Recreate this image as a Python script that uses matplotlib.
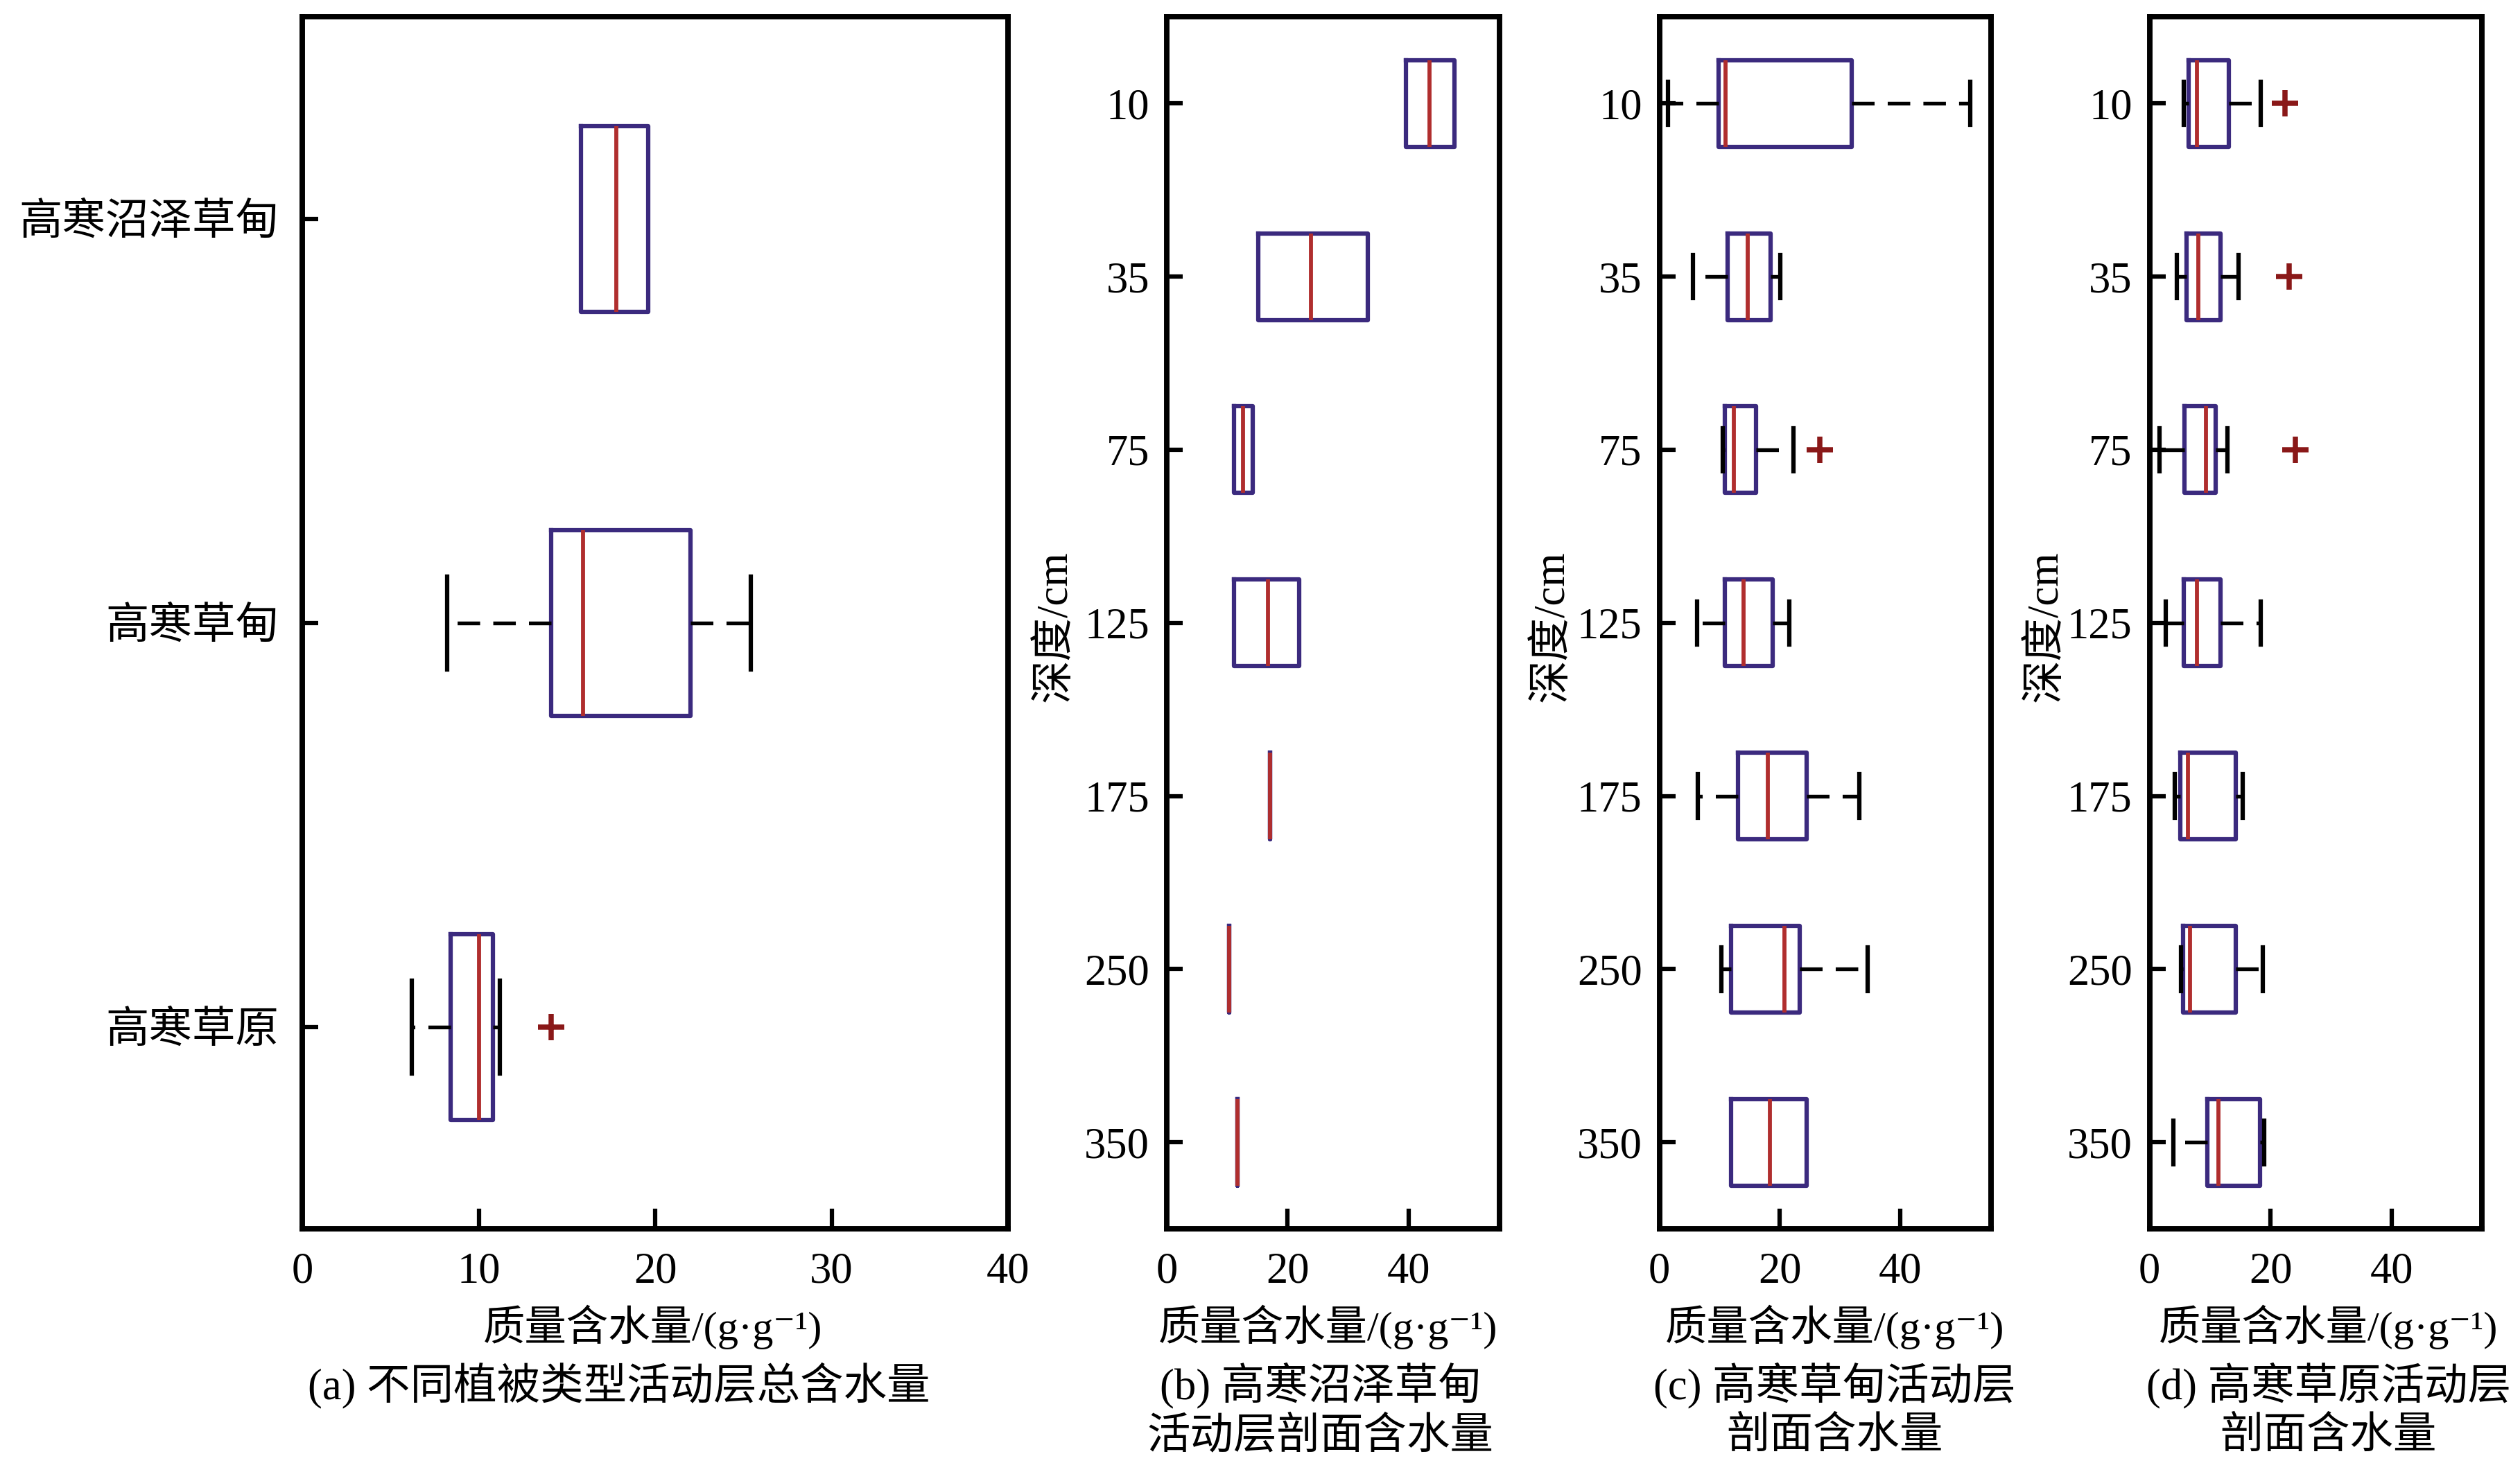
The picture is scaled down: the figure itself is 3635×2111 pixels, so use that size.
import matplotlib
matplotlib.use('Agg')
import matplotlib.pyplot as plt

plt.rcParams['font.family'] = ['Liberation Serif', 'Noto Sans CJK SC', 'DejaVu Serif']
plt.rcParams['font.size'] = 15

# ---------------- data ----------------
veg_types = ['高寒沼泽草甸', '高寒草甸', '高寒草原']
veg_q1 = [15.8, 14.1, 8.4]
veg_med = [17.8, 15.9, 10.0]
veg_q3 = [19.6, 22.0, 10.8]
veg_lo = [15.8, 8.2, 6.2]
veg_hi = [19.6, 25.4, 11.2]
veg_fliers = [[], [], [14.1]]

depths = ['10', '35', '75', '125', '175', '250', '350']

marsh_q1 = [39.6, 15.1, 11.1, 11.1, 17.1, 10.3, 11.7]
marsh_med = [43.4, 23.8, 12.6, 16.7, 17.1, 10.3, 11.7]
marsh_q3 = [47.6, 33.2, 14.2, 21.9, 17.1, 10.3, 11.7]
marsh_lo = [39.6, 15.1, 11.1, 11.1, 17.1, 10.3, 11.7]
marsh_hi = [47.6, 33.2, 14.2, 21.9, 17.1, 10.3, 11.7]
marsh_fliers = [[], [], [], [], [], [], []]

meadow_q1 = [9.8, 11.3, 10.8, 10.9, 13.0, 11.9, 11.9]
meadow_med = [11.0, 14.7, 12.4, 14.0, 18.0, 20.8, 18.3]
meadow_q3 = [31.9, 18.5, 16.0, 18.8, 24.4, 23.3, 24.4]
meadow_lo = [1.4, 5.6, 10.5, 6.3, 6.4, 10.3, 11.9]
meadow_hi = [51.6, 20.1, 22.2, 21.6, 33.2, 34.6, 24.4]
meadow_fliers = [[], [], [26.6], [], [], [], []]

steppe_q1 = [6.5, 6.1, 5.8, 5.6, 5.1, 5.5, 9.5]
steppe_med = [7.8, 8.1, 9.3, 7.8, 6.4, 6.7, 11.4]
steppe_q3 = [13.1, 11.7, 10.9, 11.7, 14.2, 14.2, 18.3]
steppe_lo = [5.6, 4.5, 1.6, 2.7, 4.2, 5.2, 3.9]
steppe_hi = [18.4, 14.7, 12.9, 18.4, 15.4, 18.7, 19.0]
steppe_fliers = [[22.4], [23.1], [24.1], [], [], [], []]

xlabel = '质量含水量/(g·g⁻¹)'
ylabel = '深度/cm'
captions = [['(a) 不同植被类型活动层总含水量'],
            ['(b) 高寒沼泽草甸', '活动层剖面含水量'],
            ['(c) 高寒草甸活动层', '剖面含水量'],
            ['(d) 高寒草原活动层', '剖面含水量']]

# ---------------- style ----------------
BOX_C = '#3b2a7e'
MED_C = '#b02e2e'
FLIER_C = '#8a1818'

fig = plt.figure(figsize=(3635 / 300, 2111 / 300), dpi=300)

bottom, height = 0.160, 0.8285
rects = [[0.120, bottom, 0.280, height],
         [0.463, bottom, 0.132, height],
         [0.6585, bottom, 0.1315, height],
         [0.853, bottom, 0.132, height]]


def make_stats(q1, med, q3, lo, hi, fl):
    return [dict(q1=a, med=b, q3=c, whislo=d, whishi=e, fliers=f)
            for a, b, c, d, e, f in zip(q1, med, q3, lo, hi, fl)]


def draw(ax, stats, labels, width, xlim, xticks):
    pos = list(range(1, len(stats) + 1))
    res = ax.bxp(stats, positions=pos, widths=width, orientation='horizontal',
                 boxprops=dict(color=BOX_C, linewidth=1.5),
                 medianprops=dict(color=MED_C, linewidth=1.4),
                 whiskerprops=dict(color='black', linewidth=1.3, linestyle=(0, (6, 3.5))),
                 capprops=dict(color='black', linewidth=1.5),
                 flierprops=dict(marker='+', markeredgecolor=FLIER_C, markersize=9,
                                 markeredgewidth=1.8, linestyle='none'))
    for i, s in enumerate(stats):
        if s['whislo'] >= s['q1']:
            res['caps'][2 * i].set_visible(False)
            res['whiskers'][2 * i].set_visible(False)
        if s['whishi'] <= s['q3']:
            res['caps'][2 * i + 1].set_visible(False)
            res['whiskers'][2 * i + 1].set_visible(False)
    ax.set_yticks(pos)
    ax.set_yticklabels(labels)
    ax.set_ylim(len(stats) + 0.5, 0.5)
    ax.set_xlim(*xlim)
    ax.set_xticks(xticks)
    for sp in ax.spines.values():
        sp.set_linewidth(1.9)
    ax.tick_params(axis='x', direction='in', length=7, width=1.5, pad=8, labelsize=15)
    ax.tick_params(axis='y', direction='in', length=5.5, width=1.5, labelsize=15)


ax_a = fig.add_axes(rects[0])
draw(ax_a, make_stats(veg_q1, veg_med, veg_q3, veg_lo, veg_hi, veg_fliers),
     veg_types, 0.46, (0, 40), [0, 10, 20, 30, 40])
ax_a.tick_params(axis='y', pad=8)

ax_b = fig.add_axes(rects[1])
draw(ax_b, make_stats(marsh_q1, marsh_med, marsh_q3, marsh_lo, marsh_hi, marsh_fliers),
     depths, 0.5, (0, 55), [0, 20, 40])
ax_c = fig.add_axes(rects[2])
draw(ax_c, make_stats(meadow_q1, meadow_med, meadow_q3, meadow_lo, meadow_hi, meadow_fliers),
     depths, 0.5, (0, 55), [0, 20, 40])
ax_d = fig.add_axes(rects[3])
draw(ax_d, make_stats(steppe_q1, steppe_med, steppe_q3, steppe_lo, steppe_hi, steppe_fliers),
     depths, 0.5, (0, 55), [0, 20, 40])
for ax in (ax_b, ax_c, ax_d):
    ax.tick_params(axis='y', pad=6)

# labels & captions
xlabel_x = [0.259, 0.527, 0.728, 0.924]
caption_x = [0.2455, 0.524, 0.728, 0.924]
for xl, xc, cap in zip(xlabel_x, caption_x, captions):
    fig.text(xl, 0.093, xlabel, ha='center', va='center', fontsize=14.5)
    for k, line in enumerate(cap):
        fig.text(xc, 0.053 - k * 0.0355, line, ha='center', va='center', fontsize=15)

for yx in (0.419, 0.616, 0.812):
    fig.text(yx, 0.572, ylabel, rotation=90, ha='center', va='center', fontsize=15)

fig.savefig('out.png', dpi=300)
